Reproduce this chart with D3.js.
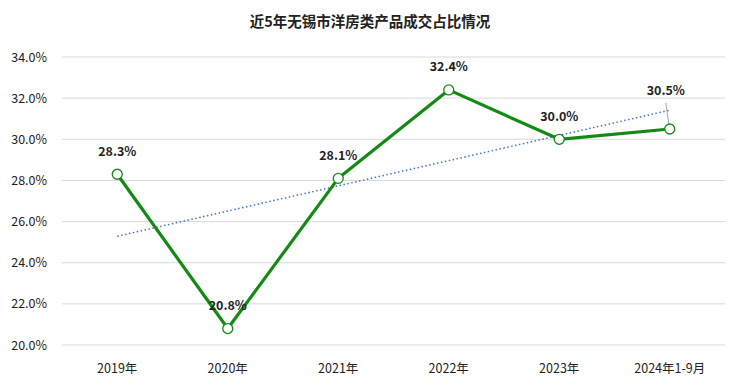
<!DOCTYPE html>
<html>
<head>
<meta charset="utf-8">
<script src="https://cdn.jsdelivr.net/npm/d3@7"></script>
<style>
body{margin:0;background:#fff;}
text{font-family:"Noto Sans CJK SC","Noto Sans",sans-serif;fill:#222;}
</style>
</head>
<body>
<div id="chart"></div>
<script>
var categories=["2019年","2020年","2021年","2022年","2023年","2024年1-9月"];
var values=[28.3,20.8,28.1,32.4,30.0,30.5];
var yTicks=[20,22,24,26,28,30,32,34];

var width=740,height=389;
var margin={top:57,right:15,bottom:44,left:62};

var svg=d3.select("#chart").append("svg")
    .attr("width",width).attr("height",height);

var x=d3.scaleBand().domain(categories).range([margin.left,width-margin.right]);
var y=d3.scaleLinear().domain([20,34]).range([height-margin.bottom,margin.top]);
function cx(c){ return x(c)+x.bandwidth()/2; }

// title
svg.append("text").attr("x",370).attr("y",27).attr("text-anchor","middle")
    .style("font-size","14.5px").style("font-weight","bold").text("近5年无锡市洋房类产品成交占比情况");

// grid
svg.append("g").selectAll("line").data(yTicks).enter().append("line")
    .attr("x1",margin.left).attr("x2",width-margin.right)
    .attr("y1",function(d){return y(d);}).attr("y2",function(d){return y(d);})
    .attr("stroke","#d9d9d9").attr("stroke-width",1);

// y axis labels
svg.append("g").selectAll("text").data(yTicks).enter().append("text")
    .attr("x",47).attr("y",function(d){return y(d)+4.5;})
    .attr("text-anchor","end").style("font-size","12.5px")
    .text(function(d){return d.toFixed(1)+"%";});

// x axis labels
svg.append("g").selectAll("text").data(categories).enter().append("text")
    .attr("x",function(d){return cx(d);}).attr("y",373)
    .attr("text-anchor","middle").style("font-size","12.5px")
    .text(function(d){return d;});

// linear trendline (least squares, as the spreadsheet draws it)
var n=values.length,mx=d3.mean(values,function(d,i){return i;}),my=d3.mean(values);
var sxy=0,sxx=0;
values.forEach(function(v,i){ sxy+=(i-mx)*(v-my); sxx+=(i-mx)*(i-mx); });
var slope=sxy/sxx,icpt=my-slope*mx;
svg.append("line")
    .attr("x1",cx(categories[0])).attr("y1",y(icpt))
    .attr("x2",cx(categories[n-1])).attr("y2",y(icpt+slope*(n-1)))
    .attr("stroke","#4472c4").attr("stroke-width",1.5).attr("stroke-dasharray","1.5 2.5");

// line
var line=d3.line().x(function(d,i){return cx(categories[i]);}).y(function(d){return y(d);});
svg.append("path").datum(values).attr("d",line)
    .attr("fill","none").attr("stroke","#138a13").attr("stroke-width",3.2)
    .attr("stroke-linejoin","round");

// leader line for last label
svg.append("line")
    .attr("x1",cx(categories[5])-4).attr("y1",y(values[5])-26)
    .attr("x2",cx(categories[5])-1).attr("y2",y(values[5])-5)
    .attr("stroke","#a6a6a6").attr("stroke-width",1);

// markers
svg.append("g").selectAll("circle").data(values).enter().append("circle")
    .attr("cx",function(d,i){return cx(categories[i]);})
    .attr("cy",function(d){return y(d);})
    .attr("r",5).attr("fill","#fff").attr("stroke","#138a13").attr("stroke-width",1.3);

// data labels
var lift=[23,23,23,23,23,39],shift=[0,0,0,0,0,-4];
svg.append("g").selectAll("text").data(values).enter().append("text")
    .attr("x",function(d,i){return cx(categories[i])+shift[i];})
    .attr("y",function(d,i){return y(d)-lift[i]+4.5;})
    .attr("text-anchor","middle").style("font-size","12.5px").style("font-weight","bold")
    .text(function(d){return d.toFixed(1)+"%";});
</script>
</body>
</html>
